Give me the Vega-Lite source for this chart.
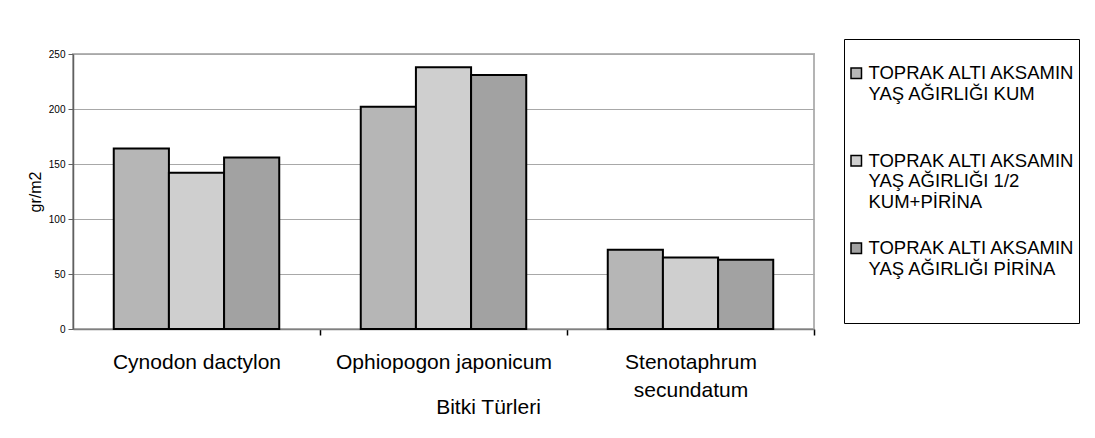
{
  "$schema": "https://vega.github.io/schema/vega-lite/v6.json",
  "width": 741,
  "height": 275,
  "autosize": "none",
  "padding": {"left": 73, "top": 54, "right": 281, "bottom": 109},
  "background": "white",
  "config": {
    "font": "Liberation Sans",
    "view": {"stroke": "#b4b4b4", "strokeWidth": 2}
  },
  "data": {
    "values": [
      {"tur": "Cynodon dactylon", "seri": "TOPRAK ALTI AKSAMIN YAŞ AĞIRLIĞI  KUM", "deger": 164},
      {"tur": "Cynodon dactylon", "seri": "TOPRAK ALTI AKSAMIN YAŞ AĞIRLIĞI 1/2 KUM+PİRİNA", "deger": 142},
      {"tur": "Cynodon dactylon", "seri": "TOPRAK ALTI AKSAMIN YAŞ AĞIRLIĞI  PİRİNA", "deger": 156},
      {"tur": "Ophiopogon japonicum", "seri": "TOPRAK ALTI AKSAMIN YAŞ AĞIRLIĞI  KUM", "deger": 202},
      {"tur": "Ophiopogon japonicum", "seri": "TOPRAK ALTI AKSAMIN YAŞ AĞIRLIĞI 1/2 KUM+PİRİNA", "deger": 238},
      {"tur": "Ophiopogon japonicum", "seri": "TOPRAK ALTI AKSAMIN YAŞ AĞIRLIĞI  PİRİNA", "deger": 231},
      {"tur": "Stenotaphrum secundatum", "seri": "TOPRAK ALTI AKSAMIN YAŞ AĞIRLIĞI  KUM", "deger": 72},
      {"tur": "Stenotaphrum secundatum", "seri": "TOPRAK ALTI AKSAMIN YAŞ AĞIRLIĞI 1/2 KUM+PİRİNA", "deger": 65},
      {"tur": "Stenotaphrum secundatum", "seri": "TOPRAK ALTI AKSAMIN YAŞ AĞIRLIĞI  PİRİNA", "deger": 63}
    ]
  },
  "mark": {"type": "bar", "stroke": "black", "strokeWidth": 2},
  "encoding": {
    "x": {
      "field": "tur",
      "type": "nominal",
      "sort": ["Cynodon dactylon", "Ophiopogon japonicum", "Stenotaphrum secundatum"],
      "scale": {"paddingInner": 0.33, "paddingOuter": 0.165},
      "axis": {
        "title": "Bitki Türleri",
        "titleFontSize": 21,
        "titleFontWeight": "normal",
        "titleColor": "black",
        "titleBaseline": "middle",
        "titleAlign": "center",
        "titleAnchor": "start",
        "titleX": 415,
        "titleY": 78,
        "labelAngle": 0,
        "labelFontSize": 21,
        "labelColor": "black",
        "labelLimit": 400,
        "labelPadding": 16,
        "labelLineHeight": 28,
        "labelExpr": "datum.label == 'Stenotaphrum secundatum' ? ['Stenotaphrum', 'secundatum'] : datum.label",
        "tickOffset": 123.5,
        "labelOffset": -123.5,
        "tickSize": 6,
        "tickWidth": 1.5,
        "tickColor": "black",
        "domainColor": "#808080",
        "domainWidth": 1.5
      }
    },
    "xOffset": {
      "field": "seri",
      "sort": ["TOPRAK ALTI AKSAMIN YAŞ AĞIRLIĞI  KUM", "TOPRAK ALTI AKSAMIN YAŞ AĞIRLIĞI 1/2 KUM+PİRİNA", "TOPRAK ALTI AKSAMIN YAŞ AĞIRLIĞI  PİRİNA"],
      "scale": {"paddingInner": 0, "paddingOuter": 0}
    },
    "y": {
      "field": "deger",
      "type": "quantitative",
      "scale": {"domain": [0, 250], "nice": false},
      "axis": {
        "title": "gr/m2",
        "titleFontSize": 16,
        "titleFontWeight": "normal",
        "titleColor": "black",
        "titlePadding": 5,
        "values": [0, 50, 100, 150, 200, 250],
        "labelFontSize": 10,
        "labelColor": "black",
        "labelPadding": 3,
        "tickSize": 5,
        "tickColor": "#606060",
        "domainColor": "#606060",
        "domainWidth": 1.5,
        "gridColor": "#a8a8a8",
        "gridWidth": 1
      }
    },
    "fill": {
      "field": "seri",
      "type": "nominal",
      "scale": {
        "domain": ["TOPRAK ALTI AKSAMIN YAŞ AĞIRLIĞI  KUM", "TOPRAK ALTI AKSAMIN YAŞ AĞIRLIĞI 1/2 KUM+PİRİNA", "TOPRAK ALTI AKSAMIN YAŞ AĞIRLIĞI  PİRİNA"],
        "range": ["#b6b6b6", "#cfcfcf", "#a2a2a2"]
      },
      "legend": {
        "title": " ",
        "titleFontSize": 10,
        "titlePadding": 12,
        "orient": "none",
        "legendX": 771,
        "legendY": -15,
        "strokeColor": "black",
        "fillColor": "white",
        "padding": 3,
        "rowPadding": 27.5,
        "symbolType": "square",
        "symbolSize": 110,
        "symbolStrokeColor": "black",
        "symbolStrokeWidth": 1.5,
        "symbolOpacity": 1,
        "symbolOffset": 0,
        "labelOffset": 3,
        "labelFontSize": 18.5,
        "labelColor": "black",
        "labelLimit": 400,
        "labelLineHeight": 19,
        "labelExpr": "datum.label == 'TOPRAK ALTI AKSAMIN YAŞ AĞIRLIĞI 1/2 KUM+PİRİNA' ? ['TOPRAK ALTI AKSAMIN', 'YAŞ AĞIRLIĞI 1/2', 'KUM+PİRİNA'] : datum.label == 'TOPRAK ALTI AKSAMIN YAŞ AĞIRLIĞI  KUM' ? ['TOPRAK ALTI AKSAMIN', 'YAŞ AĞIRLIĞI  KUM', ''] : ['TOPRAK ALTI AKSAMIN', 'YAŞ AĞIRLIĞI  PİRİNA', '', '']"
      }
    }
  }
}
